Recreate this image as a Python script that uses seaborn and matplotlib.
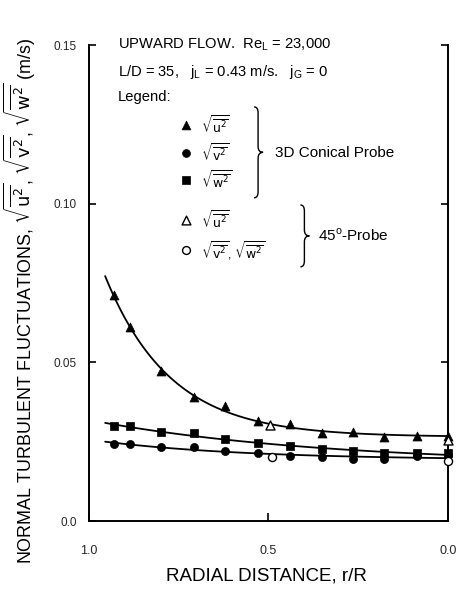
import numpy as np
import pandas as pd
import matplotlib
matplotlib.use("Agg")
import matplotlib.pyplot as plt
from matplotlib.path import Path
from matplotlib.patches import PathPatch
import seaborn as sns

# ---------------- data ----------------
r_3d = [0.93, 0.886, 0.80, 0.708, 0.621, 0.529, 0.44, 0.351, 0.265, 0.178, 0.086, 0.0]
u_3d = [0.0711, 0.0610, 0.0472, 0.0390, 0.0362, 0.0314, 0.0305, 0.0277, 0.0280, 0.0264, 0.0267, 0.0267]
v_3d = [0.0242, 0.0242, 0.0233, 0.0233, 0.0220, 0.0214, 0.0204, 0.0201, 0.0195, 0.0195, 0.0205, 0.0207]
w_3d = [0.0299, 0.0299, 0.0280, 0.0277, 0.0258, 0.0245, 0.0236, 0.0226, 0.0220, 0.0214, 0.0214, 0.0214]

r_45_u = [0.496, 0.0]
u_45 = [0.0301, 0.0255]
r_45_vw = [0.49, 0.0]
vw_45 = [0.0201, 0.0190]

x_ticks = [1.0, 0.5, 0.0]
x_ticklabels = ["1.0", "0.5", "0.0"]
y_ticks = [0.0, 0.05, 0.10, 0.15]
y_ticklabels = ["0.0", "0.05", "0.10", "0.15"]

df3d = pd.DataFrame({"r": r_3d, "u": u_3d, "v": v_3d, "w": w_3d})

# ---------------- style ----------------
sns.set_theme(style="white")
plt.rcParams["font.family"] = ["Liberation Sans", "DejaVu Sans"]
plt.rcParams["text.color"] = "black"
plt.rcParams["axes.labelcolor"] = "black"

fig = plt.figure(figsize=(4.59, 6.01), dpi=100)
ax = fig.add_axes([0.1939, 0.1331, 0.7821, 0.792])


def exp_fit(r, y):
    """least-squares fit y = a + b*exp(k*r) (smooth curve through the symbols)"""
    r = np.asarray(r)
    y = np.asarray(y)
    best = None
    for k in np.linspace(0.2, 12, 400):
        A = np.column_stack([np.ones_like(r), np.exp(k * r)])
        coef, *_ = np.linalg.lstsq(A, y, rcond=None)
        res = np.sum((A @ coef - y) ** 2)
        if best is None or res < best[0]:
            best = (res, k, coef)
    _, k, (a, b) = best
    rr = np.linspace(0.0, 0.955, 120)
    return rr, a + b * np.exp(k * rr)


# fitted curves
for col in ["u", "w", "v"]:
    rr, yy = exp_fit(df3d["r"], df3d[col])
    sns.lineplot(x=rr, y=yy, ax=ax, color="black", lw=1.3, sort=False)

# symbols
sns.scatterplot(data=df3d, x="r", y="u", marker="^", s=42, color="black",
                edgecolor="black", linewidth=0.5, ax=ax, clip_on=False, zorder=5)
sns.scatterplot(data=df3d, x="r", y="w", marker="s", s=34, color="black",
                edgecolor="black", linewidth=0.5, ax=ax, clip_on=False, zorder=5)
sns.scatterplot(data=df3d, x="r", y="v", marker="o", s=34, color="black",
                edgecolor="black", linewidth=0.5, ax=ax, clip_on=False, zorder=5)
sns.scatterplot(x=r_45_u, y=u_45, marker="^", s=42, color="white",
                edgecolor="black", linewidth=1.0, ax=ax, clip_on=False, zorder=6)
sns.scatterplot(x=r_45_vw, y=vw_45, marker="o", s=34, color="white",
                edgecolor="black", linewidth=1.0, ax=ax, clip_on=False, zorder=6)

# axes
ax.set_xlim(1.0, 0.0)
ax.set_ylim(0.0, 0.15)
ax.set_xticks(x_ticks)
ax.set_xticklabels(x_ticklabels)
ax.set_yticks(y_ticks)
ax.set_yticklabels(y_ticklabels)
ax.tick_params(axis="y", which="both", direction="in", left=True, right=True,
               length=5, width=1.2, color="black", labelsize=8.5, pad=9)
ax.tick_params(axis="x", which="both", direction="in", bottom=True, top=False,
               length=6, width=1.2, color="black", labelsize=9, pad=17)
for side in ["left", "bottom", "right"]:
    ax.spines[side].set_visible(True)
    ax.spines[side].set_color("black")
    ax.spines[side].set_linewidth(1.4)
ax.spines["top"].set_visible(False)
ax.set_facecolor("white")

ax.set_xlabel("RADIAL DISTANCE, r/R", fontsize=13.5)
ax.xaxis.set_label_coords(0.493, -0.098)
ax.set_ylabel(r"NORMAL TURBULENT FLUCTUATIONS, $\sqrt{\overline{\mathrm{u}^2}}$, "
              r"$\sqrt{\overline{\mathrm{v}^2}}$, $\sqrt{\overline{\mathrm{w}^2}}$ (m/s)",
              fontsize=12.9)
ax.yaxis.set_label_coords(-0.143, 0.463)

# header text
tfs = 10.6
ax.text(0.081, 1.0, r"UPWARD FLOW.  Re$_\mathregular{L}$ = 23,000", transform=ax.transAxes,
        fontsize=tfs, va="center", ha="left")
ax.text(0.081, 0.943, r"L/D = 35,   j$_\mathregular{L}$ = 0.43 m/s.   j$_\mathregular{G}$ = 0",
        transform=ax.transAxes, fontsize=tfs, va="center", ha="left")
ax.text(0.081, 0.891, "Legend:", transform=ax.transAxes, fontsize=tfs, va="center", ha="left")

# legend keys
kx, lx = 0.270, 0.312
keys = [
    (0.832, "^", "black", r"$\sqrt{\overline{\mathrm{u}^2}}$"),
    (0.773, "o", "black", r"$\sqrt{\overline{\mathrm{v}^2}}$"),
    (0.716, "s", "black", r"$\sqrt{\overline{\mathrm{w}^2}}$"),
    (0.632, "^", "white", r"$\sqrt{\overline{\mathrm{u}^2}}$"),
    (0.569, "o", "white", r"$\sqrt{\overline{\mathrm{v}^2}}$, $\sqrt{\overline{\mathrm{w}^2}}$"),
]
for ky, mk, fc, lab in keys:
    ax.scatter([kx], [ky], marker=mk, s=40 if mk == "^" else 32, facecolor=fc,
               edgecolor="black", linewidth=1.0 if fc == "white" else 0.5,
               transform=ax.transAxes, clip_on=False, zorder=6)
    ax.text(lx, ky, lab, transform=ax.transAxes, fontsize=9, va="center", ha="left")


def brace(x, y0, y1):
    dx = 4 / 359.0
    tx = 5 / 359.0
    dy = 6 / 476.0
    ym = 0.5 * (y0 + y1)
    verts = [
        (x - dx, y1), (x, y1), (x, y1 - dy),
        (x, ym + dy),
        (x, ym), (x + tx, ym),
        (x, ym), (x, ym - dy),
        (x, y0 + dy),
        (x, y0), (x - dx, y0),
    ]
    codes = [Path.MOVETO, Path.CURVE3, Path.CURVE3, Path.LINETO,
             Path.CURVE3, Path.CURVE3, Path.CURVE3, Path.CURVE3,
             Path.LINETO, Path.CURVE3, Path.CURVE3]
    p = PathPatch(Path(verts, codes), transform=ax.transAxes, fill=False,
                  edgecolor="black", lw=1.0, clip_on=False)
    ax.add_patch(p)


brace(0.471, 0.679, 0.870)
ax.text(0.518, 0.7735, "3D Conical Probe", transform=ax.transAxes, fontsize=11,
        va="center", ha="left")
brace(0.600, 0.534, 0.664)
ax.text(0.639, 0.601, r"45$^\mathregular{o}$-Probe", transform=ax.transAxes, fontsize=11,
        va="center", ha="left")

fig.savefig("out.png", dpi=100, facecolor="white")
